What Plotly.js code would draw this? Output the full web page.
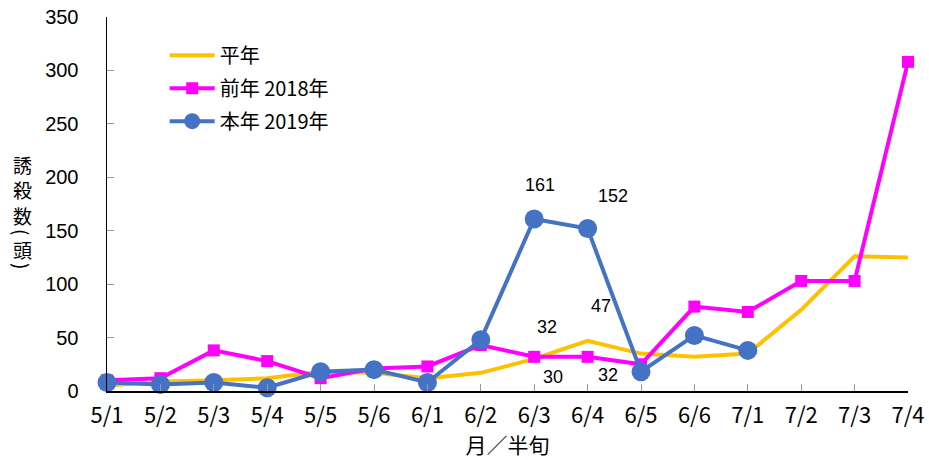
<!DOCTYPE html>
<html><head><meta charset="utf-8">
<script src="https://cdn.plot.ly/plotly-3.0.1.min.js"></script>
<style>html,body{margin:0;padding:0;background:#fff}#c{width:929px;height:460px}</style>
</head><body><div id="c"></div>
<script>
const categories = ['5/1','5/2','5/3','5/4','5/5','5/6','6/1','6/2','6/3','6/4','6/5','6/6','7/1','7/2','7/3','7/4'];
const heinen = [5,9,10,12,18,17,12,17,30,47,35,32,35,76,126,125];
const zennen2018 = [10,12,38,28,12,21,23,43,32,32,25,79,74,103,103,308];
const honnen2019 = [8,6,8,3,18,20,8,48,161,152,18,52,38];
const yTicks = [0,50,100,150,200,250,300,350];
const yTitleChars = ['誘','殺','数','(','頭',')'];
const labels = [
  {cat:'6/3', v:161, dx:6, dy:34},
  {cat:'6/4', v:152, dx:25, dy:33},
  {cat:'6/4', v:47, dx:13, dy:35},
  {cat:'6/3', v:32, dx:13, dy:30},
  {cat:'6/3', v:30, dx:19, dy:-18},
  {cat:'6/4', v:32, dx:20, dy:-18}
];
const jp = '"Noto Sans CJK JP", "Noto Sans", sans-serif';
const traces = [
  {x:categories, y:heinen, name:'平年', mode:'lines', legendgroup:'a', cliponaxis:false,
   line:{color:'#FFC000', width:4}},
  {x:categories, y:zennen2018, name:'前年 2018年', mode:'lines+markers', legendgroup:'b', cliponaxis:false,
   line:{color:'#FF00FF', width:4}, marker:{symbol:'square', size:12, color:'#FF00FF'}},
  {x:categories.slice(0, honnen2019.length), y:honnen2019, name:'本年 2019年', mode:'lines+markers', legendgroup:'c', cliponaxis:false,
   line:{color:'#4472C4', width:4}, marker:{symbol:'circle', size:19, color:'#4472C4'}}
];
const annotations = labels.map(l => ({x:l.cat, y:l.v, xref:'x', yref:'y', text:String(l.v), showarrow:false,
  xshift:l.dx, yshift:l.dy, font:{family:'"Liberation Sans", Arial, sans-serif', size:18, color:'#000'}}));
// vertical y-axis title, one glyph per annotation; parentheses turned for vertical writing
const titleCenterPx = [164, 190, 215, 232, 249, 266];
const titleAngle = [0, 0, 0, 90, 0, 90];
yTitleChars.forEach((ch, i) => {
  annotations.push({xref:'paper', yref:'paper', x:-0.105, y:(391 - titleCenterPx[i]) / 374,
    xanchor:'center', yanchor:'middle', text:ch, showarrow:false, textangle:titleAngle[i],
    font:{family:jp, size:19, color:'#000'}});
});
const layout = {
  width:929, height:460, margin:{l:107, r:21, t:17, b:69},
  paper_bgcolor:'#fff', plot_bgcolor:'#fff', showlegend:true,
  legend:{x:0.072, y:0.95, xanchor:'left', yanchor:'top', bgcolor:'rgba(0,0,0,0)', itemwidth:45,
    font:{family:jp, size:20, color:'#000'}, tracegroupgap:4, traceorder:'grouped'},
  xaxis:{type:'category', categoryarray:categories, range:[0,15], showgrid:false, zeroline:false,
    showline:true, linecolor:'#000', linewidth:1.5, ticks:'inside', ticklen:7, tickcolor:'#999',
    ticklabelstandoff:4,
    tickfont:{family:jp, size:22, color:'#000'},
    title:{text:'月／半旬', font:{family:jp, size:21, color:'#000'}, standoff:1}},
  yaxis:{range:[0,350], tickvals:yTicks, showgrid:false, zeroline:false, showline:true,
    linecolor:'#000', linewidth:1.5, ticks:'inside', ticklen:7, tickcolor:'#999',
    ticklabelstandoff:23,
    tickfont:{family:'"Liberation Sans", Arial, sans-serif', size:20, color:'#000'}},
  annotations:annotations
};
Plotly.newPlot('c', traces, layout, {displayModeBar:false, staticPlot:true});
</script></body></html>
